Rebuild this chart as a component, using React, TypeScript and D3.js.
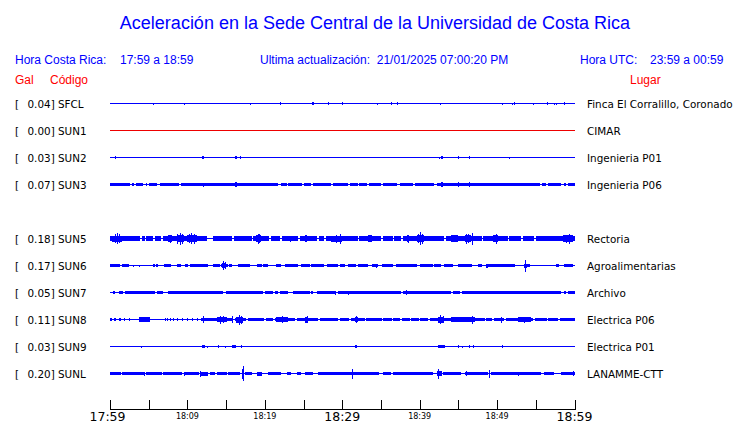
import React from "react";
import * as d3 from "d3";

// ---------- data ----------
const titleText = "Aceleración en la Sede Central de la Universidad de Costa Rica";
const localRange = "17:59 a 18:59";
const utcRange = "23:59 a 00:59";
const updated = "21/01/2025 07:00:20 PM";

const codes = ["SFCL", "SUN1", "SUN2", "SUN3", "SUN5", "SUN6", "SUN7", "SUN8", "SUN9", "SUNL"];
const peakGal = [0.04, 0.0, 0.03, 0.07, 0.18, 0.17, 0.05, 0.11, 0.03, 0.2];
const places = [
  "Finca El Corralillo, Coronado",
  "CIMAR",
  "Ingenieria P01",
  "Ingenieria P06",
  "Rectoria",
  "Agroalimentarias",
  "Archivo",
  "Electrica P06",
  "Electrica P01",
  "LANAMME-CTT",
];
const rowSlots = [0, 1, 2, 3, 5, 6, 7, 8, 9, 10];

// minutes after 17:59
const tickMinutes = [0, 5, 10, 15, 20, 25, 30, 35, 40, 45, 50, 55, 60];
const tickLabels: Record<number, string> = { 0: "17:59", 10: "18:09", 20: "18:19", 30: "18:29", 40: "18:39", 50: "18:49", 60: "18:59" };
const bigTicks = [0, 30, 60];

// bands: [startMin, endMin, halfAmplitude]; spikes: [min, halfAmplitude]
const sfclBands = [[26.1, 26.4, 1.5]];
const sfclSpikes = [[5.6, 1], [9.5, 1], [18.1, 1], [22.0, 1.5], [28.2, 1.5], [30.0, 1.5], [34.5, 1], [36.3, 1.5], [37.1, 1.5], [42.6, 1], [50.6, 1], [51.9, 1], [52.2, 1.5], [54.6, 1], [56.4, 1.5], [57.3, 1], [57.6, 1], [58.6, 1.5]];

const sun1Bands: number[][] = [];
const sun1Spikes: number[][] = [];

const sun2Bands = [[11.9, 12.2, 1.5], [16.2, 16.4, 1.5], [42.8, 43.0, 1.5]];
const sun2Spikes = [[0.7, 1.5], [16.8, 1.5], [42.5, 1], [44.9, 1.5], [46.4, 1.5], [51.5, 1]];

const sun3Bands = [[0, 2.6, 1.7], [2.8, 3.1, 1.7], [3.4, 4.3, 1.7], [4.6, 4.8, 1.7], [5.0, 6.1, 1.7], [6.4, 8.9, 1.7], [9.2, 21.7, 1.7], [22.1, 22.8, 1.7], [23.0, 24.8, 1.7], [25.1, 26.0, 1.7], [26.2, 28.6, 1.7], [28.8, 30.7, 1.7], [31.0, 32.0, 1.7], [32.2, 33.2, 1.7], [33.5, 35.0, 1.7], [35.3, 37.1, 1.7], [37.4, 39.1, 1.7], [39.4, 41.8, 1.7], [42.2, 55.6, 1.7], [55.8, 56.3, 1.7], [56.6, 58.3, 1.7], [58.6, 58.9, 1.7], [59.2, 60, 1.7], [42.7, 43.0, 2.6], [16.2, 16.4, 2.6]];
const sun3Spikes = [[12.0, 2], [16.3, 2.8], [42.9, 2.8], [44.9, 2.3], [46.4, 2.3]];

const sun5Bands = [[0, 3.9, 2.3], [4.1, 4.5, 2.3], [4.7, 5.6, 2.3], [5.8, 6.6, 2.3], [6.8, 12.5, 2.3], [13.3, 15.8, 2.3], [16.0, 18.3, 2.3], [18.5, 20.6, 2.3], [20.8, 22.0, 2.3], [22.2, 24.3, 2.3], [24.5, 26.8, 2.3], [27.0, 27.7, 2.3], [27.9, 32.0, 2.3], [32.2, 35.0, 2.3], [35.2, 36.5, 2.3], [36.7, 37.6, 2.3], [37.8, 43.2, 2.3], [43.4, 48.0, 2.3], [48.2, 51.4, 2.3], [51.6, 53.1, 2.3], [53.3, 54.8, 2.3], [55.0, 60, 2.3], [0.2, 1.5, 3], [7.5, 8.0, 3.2], [8.6, 9.5, 3.8], [9.9, 11.2, 3.5], [18.9, 19.5, 3.4], [23.2, 23.4, 3], [25.2, 25.4, 3.2], [28.6, 30.0, 3], [33.3, 33.8, 3.2], [38.3, 38.6, 3.4], [39.6, 40.6, 3.5], [44.1, 44.9, 3.2], [45.8, 46.6, 3.5], [49.5, 50.1, 3.5], [58.5, 59.8, 3.2]];
const sun5Spikes = [[0.6, 4.5], [0.85, 5.5], [1.1, 4.5], [7.7, 4], [8.7, 5], [9.0, 6], [9.3, 5], [10.2, 4.5], [10.5, 5.5], [10.9, 5], [19.1, 5], [19.3, 4.5], [25.3, 3.5], [29.2, 4], [29.7, 5], [38.45, 4], [39.8, 4.5], [40.0, 6.5], [40.3, 5], [44.5, 3.5], [46.0, 5], [46.3, 4.5], [46.75, 6], [49.8, 5], [58.9, 4], [59.35, 5]];

const sun6Bands = [[0, 1.3, 1.2], [1.5, 2.4, 1.2], [5.6, 5.8, 1.2], [6.0, 6.2, 1.2], [7.0, 7.9, 1.2], [8.6, 9.2, 1.2], [9.7, 10.1, 1.2], [10.3, 12.7, 1.2], [13.3, 14.2, 1.2], [14.4, 15.2, 1.2], [15.4, 15.7, 1.2], [16.5, 18.1, 1.2], [19.0, 19.6, 1.2], [19.8, 20.4, 1.2], [21.5, 22.1, 1.2], [22.6, 24.3, 1.2], [24.7, 25.8, 1.2], [26.0, 27.7, 1.2], [28.0, 29.5, 1.2], [29.7, 30.3, 1.2], [30.8, 31.8, 1.2], [32.0, 33.3, 1.2], [33.8, 34.6, 1.2], [35.1, 36.6, 1.2], [37.0, 39.6, 1.2], [40.0, 41.7, 1.2], [41.8, 42.8, 1.2], [43.2, 44.3, 1.2], [45.0, 46.7, 1.2], [47.5, 48.0, 1.2], [48.6, 48.8, 2], [48.8, 52.3, 1.2], [53.8, 54.2, 1.5], [57.6, 58.0, 1.2], [58.7, 59.8, 1.2], [14.5, 15.0, 2.5], [34.4, 34.5, 2], [53.5, 53.9, 2]];
const sun6Spikes = [[3.0, 1], [3.7, 1], [14.65, 4.5], [14.85, 3.5], [53.6, 6]];

const sun7Bands = [[0.4, 0.7, 1.4], [1.1, 1.7, 1.4], [1.9, 5.8, 1.4], [6.1, 6.8, 1.4], [7.5, 14.6, 1.4], [15.0, 19.7, 1.4], [20.0, 21.1, 1.4], [21.3, 21.7, 1.4], [22.0, 23.0, 1.4], [23.7, 25.8, 1.4], [26.0, 26.2, 1.4], [26.7, 29.0, 1.4], [29.5, 37.6, 1.4], [37.8, 44.1, 1.4], [44.3, 45.2, 1.4], [45.5, 58.3, 1.4], [58.6, 58.9, 1.4], [59.2, 60, 1.4]];
const sun7Spikes = [[29.0, 2], [30.8, 2], [38.2, 2.5], [54.0, 1.8]];

const sun8Bands = [[0, 0.3, 1.8], [0.5, 0.8, 1.8], [1.2, 1.4, 1.8], [1.8, 2.0, 1.8], [2.4, 2.6, 1.8], [3.7, 5.2, 2.2], [11.8, 14.5, 1.8], [14.7, 15.9, 1.8], [16.1, 17.6, 1.8], [17.8, 19.9, 1.8], [20.1, 21.1, 1.8], [21.3, 23.9, 1.8], [24.1, 26.9, 1.8], [27.1, 29.5, 1.8], [29.7, 30.9, 1.8], [31.1, 32.9, 1.8], [33.1, 35.1, 1.8], [35.3, 36.4, 1.8], [36.6, 37.5, 1.8], [37.7, 38.7, 1.8], [38.9, 39.9, 1.8], [40.1, 41.1, 1.8], [41.3, 48.4, 1.8], [48.6, 49.4, 1.8], [49.6, 50.9, 1.8], [51.1, 54.7, 1.8], [54.9, 56.4, 1.8], [56.6, 57.9, 1.8], [58.1, 60, 1.8], [13.8, 15.1, 2.5], [16.3, 17.2, 3], [21.5, 23.0, 2.6], [25.2, 25.6, 3], [31.6, 32.0, 2.6], [42.4, 43.2, 3], [44.1, 47.1, 2.3], [52.7, 54.4, 2.3]];
const sun8Spikes = [[7.1, 1.8], [7.4, 1.8], [7.8, 1.8], [8.2, 1.8], [8.6, 1.8], [9.3, 1.8], [10.0, 1.8], [10.6, 1.8], [11.3, 1.8], [12.0, 3.5], [14.2, 4], [14.6, 3.5], [15.8, 3.5], [16.65, 5], [16.9, 4], [22.2, 3.5], [25.4, 3.5], [31.8, 3.5], [42.65, 4.5], [43.0, 3.8], [46.7, 4], [50.5, 3], [53.5, 3]];

const sun9Bands = [[11.9, 12.3, 1.3], [13.9, 14.1, 1.3], [15.7, 16.3, 1.3], [16.9, 17.1, 1.3], [31.7, 31.9, 1.5], [42.4, 43.3, 1.5]];
const sun9Spikes = [[4.0, 1], [12.5, 1], [14.8, 1], [44.9, 1.3], [45.5, 1], [46.4, 1.3], [46.9, 1.3], [50.6, 1.3]];

const sunlBands = [[0, 1.4, 1.4], [1.6, 4.4, 1.4], [4.6, 6.7, 1.4], [6.8, 9.3, 1.4], [9.7, 11.5, 1.4], [11.8, 12.7, 2], [12.9, 13.6, 1.4], [13.8, 15.1, 1.4], [15.3, 16.8, 1.5], [17.5, 18.4, 1.4], [19.0, 19.6, 2], [20.4, 22.1, 1.4], [22.8, 23.4, 1.4], [24.1, 24.7, 1.4], [25.2, 26.2, 1.4], [26.9, 27.7, 1.4], [27.7, 31.2, 1.4], [31.4, 34.8, 1.4], [35.3, 36.3, 1.4], [36.5, 41.7, 1.4], [42.2, 42.9, 2.5], [43.0, 45.4, 1.4], [45.8, 48.8, 1.4], [49.2, 55.7, 1.4], [56.1, 57.4, 1.4], [58.3, 60, 1.4]];
const sunlSpikes = [[4.4, 2], [9.5, 2], [11.6, 3], [17.0, 5], [17.2, 7.5], [31.3, 5], [42.4, 5], [46.0, 2.5], [49.0, 4], [52.7, 2], [59.8, 2.5]];

const allBands = [sfclBands, sun1Bands, sun2Bands, sun3Bands, sun5Bands, sun6Bands, sun7Bands, sun8Bands, sun9Bands, sunlBands];
const allSpikes = [sfclSpikes, sun1Spikes, sun2Spikes, sun3Spikes, sun5Spikes, sun6Spikes, sun7Spikes, sun8Spikes, sun9Spikes, sunlSpikes];
const traceColors = ["blue", "red", "blue", "blue", "blue", "blue", "blue", "blue", "blue", "blue"];

// ---------- chart ----------
const W = 740;
const H = 423;
const BLUE = "#0000ff";
const RED = "#ff0000";

export default function App() {
  const x = d3.scaleLinear().domain([0, 60]).range([110, 574.5]);
  const row = d3.scaleLinear().domain([0, 10]).range([103, 373]);
  const amp = d3.scaleLinear().domain([0, 10]).range([0, 10]);
  const headerFont = "'Liberation Sans', Arial, sans-serif";
  const labelFont = "'DejaVu Sans', sans-serif";
  const axisY = 409;

  return (
    <svg width={W} height={H} style={{ position: "absolute", left: 0, top: 0, background: "#fff" }}>
      <rect width={W} height={H} fill="#fff" />
      <text x={375} y={29} textAnchor="middle" fontFamily={headerFont} fontSize={18} fill={BLUE}>
        {titleText}
      </text>
      <g fontFamily={headerFont} fontSize={12} fill={BLUE}>
        <text x={15} y={64}>Hora Costa Rica:</text>
        <text x={120} y={64}>{localRange}</text>
        <text x={260} y={64} style={{ whiteSpace: "pre" }}>{"Ultima actualización:  " + updated}</text>
        <text x={580} y={64}>Hora UTC:</text>
        <text x={650} y={64}>{utcRange}</text>
      </g>
      <g fontFamily={headerFont} fontSize={12} fill={RED}>
        <text x={15} y={84}>Gal</text>
        <text x={50} y={84}>Código</text>
        <text x={630} y={84}>Lugar</text>
      </g>

      {codes.map((code, i) => {
        const yc = row(rowSlots[i]) + 0.5;
        const col = traceColors[i] === "red" ? "#ee0000" : BLUE;
        return (
          <g key={code}>
            <text x={15} y={yc + 4} fontFamily={labelFont} fontSize={10.4} fill="#000">[</text>
            <text x={27.5} y={yc + 4} fontFamily={labelFont} fontSize={10.4} fill="#000">
              {peakGal[i].toFixed(2) + "] " + code}
            </text>
            <text x={587} y={yc + 4} fontFamily={labelFont} fontSize={10.4} fill="#000">
              {places[i]}
            </text>
            <line x1={x(0)} x2={x(60) + 0.5} y1={yc} y2={yc} stroke={col} strokeWidth={1} shapeRendering="crispEdges" />
            <g fill={col} shapeRendering="crispEdges">
              {allBands[i].map((b, j) => {
                const a = amp(b[2]);
                return (
                  <rect key={"b" + j} x={x(b[0])} width={Math.max(1, x(b[1]) - x(b[0]))} y={yc - a} height={2 * a} />
                );
              })}
              {allSpikes[i].map((s, j) => {
                const a = amp(s[1]);
                return <rect key={"s" + j} x={x(s[0])} width={1} y={yc - a} height={2 * a} />;
              })}
            </g>
          </g>
        );
      })}

      <g shapeRendering="crispEdges" stroke="#000">
        <line x1={x(0)} x2={x(60) + 1} y1={axisY + 0.5} y2={axisY + 0.5} />
        {tickMinutes.map((m) => (
          <line key={m} x1={Math.round(x(m)) + 0.5} x2={Math.round(x(m)) + 0.5} y1={axisY - 9} y2={axisY} />
        ))}
      </g>
      <g fontFamily={labelFont} fill="#000" textAnchor="middle">
        {tickMinutes
          .filter((m) => tickLabels[m] !== undefined)
          .map((m) => {
            const big = bigTicks.includes(m);
            return (
              <text key={m} x={x(m) - (m === 0 ? 2.5 : 0)} y={big ? 421 : 418.5} fontSize={big ? 12.5 : 8}>
                {tickLabels[m]}
              </text>
            );
          })}
      </g>
    </svg>
  );
}
